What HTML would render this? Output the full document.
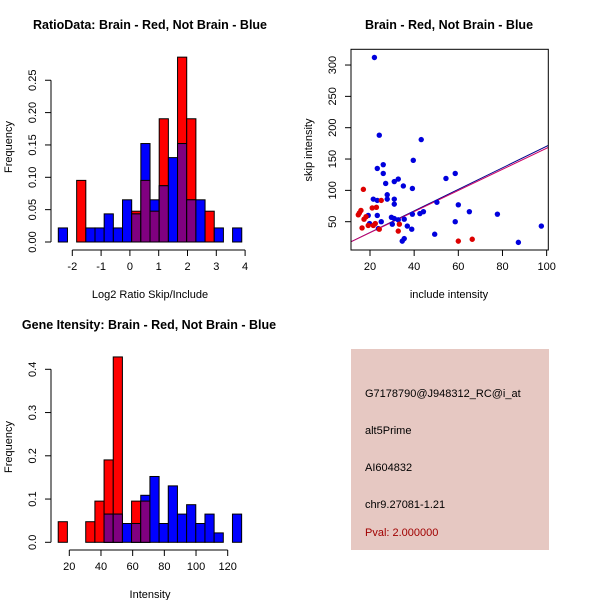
<!DOCTYPE html>
<html><head><meta charset="utf-8"><style>
body{margin:0;background:#fff}
svg{display:block;font-family:"Liberation Sans",sans-serif}
</style></head><body>
<svg id="c" width="600" height="600" viewBox="0 0 600 600">
<rect width="600" height="600" fill="#fff"/>
</svg>
<script>
// Histogram 1: RatioData
const ratioBreakStart = -2.486;
const ratioBinWidth = 0.3185;
const ratioRed = [0,0,2,0,0,0,0,0,1,2,1,4,0,6,4,0,1,0,0,0];
const ratioBlue = [1,0,0,1,1,2,1,3,2,7,3,4,6,7,3,3,0,1,0,1];
const ratioRedN = 21, ratioBlueN = 46;
const ratioXTicks = [-2,-1,0,1,2,3,4];
const ratioYTicks = [0,0.05,0.10,0.15,0.20,0.25];
const ratioYLabels = ["0.00","0.05","0.10","0.15","0.20","0.25"];
// Histogram 2: Gene intensity
const geneBreakStart = 13;
const geneBinWidth = 5.79;
const geneRed = [1,0,0,1,2,4,9,0,2,2,0,0,0,0,0,0,0,0,0,0];
const geneBlue = [0,0,0,0,0,3,3,2,2,5,7,2,6,3,4,2,3,1,0,3];
const geneXTicks = [20,40,60,80,100,120];
const geneYTicks = [0,0.1,0.2,0.3,0.4];
const geneYLabels = ["0.0","0.1","0.2","0.3","0.4"];
// Scatter
const blueX = [22,24.2,43.2,39.6,26,23.3,26,58.6,54.4,32.8,31,27.1,35.1,39.2,27.8,21.5,23.3,27.8,31,31,50.3,60,65,44.2,42.6,39.2,77.7,19.2,23.3,29.7,31,32.8,35.5,25.1,58.6,19.8,30.1,36.9,97.6,38.9,49.3,35.5,34.6,87.2,23.8];
const blueY = [312,188,181,148,141,135,127,127,119,118,114,111,107,103,93,86,84,86,86,78,81,77,66,66,63,62,62,60,60,57,55,53,54,50,50,47,46,43,43,38,30,23,19,17,39];
const redX = [17,15.9,14.7,15.2,18.2,17.3,16.4,21,22.9,25.1,19.2,21.5,22.4,24.2,32.8,33.3,60,66.3];
const redY = [101.6,68,61,64,58,54,40,72,73,84,44,44,47,38,35,46,19,22];
const fitBlue = [-1.6,1.72];
const fitRed = [-1.2,1.685];
const scatXTicks = [20,40,60,80,100];
const scatYTicks = [50,100,150,200,250,300];

const svg = document.getElementById('c');
const NS = 'http://www.w3.org/2000/svg';
function mk(tag, at, parent){const e=document.createElementNS(NS,tag);for(const k in at)e.setAttribute(k,at[k]);(parent||svg).appendChild(e);return e;}
function txt(s, at, parent){const e=mk('text',at,parent);e.textContent=s;return e;}

function hist(g, cfg){
  const xs=v=>cfg.x0+(v-cfg.d0)*cfg.xk, ys=v=>cfg.y0-v*cfg.yk;
  const n=cfg.red.length;
  for(let i=0;i<n;i++){
    const a=cfg.start+i*cfg.bw,b=a+cfg.bw;
    const r=cfg.red[i]/cfg.rn, bl=cfg.blue[i]/cfg.bn, m=Math.min(r,bl);
    const x=xs(a), w=xs(b)-xs(a);
    if(r>0){const e=mk('rect',{x:x,y:ys(r),width:w,height:ys(0)-ys(r),fill:'#ff0000',stroke:'#000','stroke-width':1},g);
      }
    if(bl>0){const e=mk('rect',{x:x,y:ys(bl),width:w,height:ys(0)-ys(bl),fill:'#0000ff',stroke:'#000','stroke-width':1},g);
      }
    if(m>0){const e=mk('rect',{x:x,y:ys(m),width:w,height:ys(0)-ys(m),fill:'#800080',stroke:'#000','stroke-width':1},g);
      }
  }
  const yt=cfg.yticks;
  mk('line',{x1:cfg.yax,y1:ys(yt[0]),x2:cfg.yax,y2:ys(yt[yt.length-1]),stroke:'#000'},g);
  yt.forEach((v,i)=>{mk('line',{x1:cfg.yax-6,y1:ys(v),x2:cfg.yax,y2:ys(v),stroke:'#000'},g);
    const t=txt(cfg.ylabels[i],{x:0,y:0,'font-size':11,'text-anchor':'middle',transform:`translate(${cfg.yax-15},${ys(v)}) rotate(-90)`},g);
    });
  const xt=cfg.xticks;
  mk('line',{x1:xs(xt[0]),y1:cfg.xay,x2:xs(xt[xt.length-1]),y2:cfg.xay,stroke:'#000'},g);
  xt.forEach(v=>{mk('line',{x1:xs(v),y1:cfg.xay,x2:xs(v),y2:cfg.xay+6,stroke:'#000'},g);
    const t=txt(String(v),{x:xs(v),y:cfg.xay+20,'font-size':11,'text-anchor':'middle'},g);
    });
}

const g1=mk('g',{});
hist(g1,{x0:72.3,d0:-2,xk:28.8,y0:242,yk:647,start:ratioBreakStart,bw:ratioBinWidth,red:ratioRed,blue:ratioBlue,rn:ratioRedN,bn:ratioBlueN,yticks:ratioYTicks,ylabels:ratioYLabels,xticks:ratioXTicks,yax:51,xay:250});
const g2=mk('g',{});
hist(g2,{x0:69.3,d0:20,xk:1.584,y0:542.3,yk:432.5,start:geneBreakStart,bw:geneBinWidth,red:geneRed,blue:geneBlue,rn:21,bn:46,yticks:geneYTicks,ylabels:geneYLabels,xticks:geneXTicks,yax:51,xay:550});

const g3=mk('g',{});
const sx=v=>370+(v-20)*2.208, sy=v=>221.7-(v-50)*0.6267;
const clip=mk('clipPath',{id:'sc'},g3);mk('rect',{x:351,y:49,width:197,height:201},clip);
[[fitBlue,'#00008b'],[fitRed,'#cc0066']].forEach(([f,c])=>{const l=mk('line',{x1:sx(0),y1:sy(f[0]),x2:sx(110),y2:sy(f[0]+f[1]*110),stroke:c,'clip-path':'url(#sc)'},g3);
  });
blueX.forEach((v,i)=>{const c=mk('circle',{cx:sx(v),cy:sy(blueY[i]),r:2.7,fill:'#0000dd'},g3);
  });
redX.forEach((v,i)=>{const c=mk('circle',{cx:sx(v),cy:sy(redY[i]),r:2.7,fill:'#dd0000'},g3);
  });
mk('rect',{x:351,y:49.3,width:197.3,height:200.7,fill:'none',stroke:'#000'},g3);
scatXTicks.forEach(v=>{mk('line',{x1:sx(v),y1:250,x2:sx(v),y2:256,stroke:'#000'},g3);
  const t=txt(v,{x:sx(v),y:270,'font-size':11,'text-anchor':'middle'},g3);});
scatYTicks.forEach(v=>{mk('line',{x1:345,y1:sy(v),x2:351,y2:sy(v),stroke:'#000'},g3);
  const t=txt(v,{x:0,y:0,'font-size':11,'text-anchor':'middle',transform:`translate(336,${sy(v)}) rotate(-90)`},g3);});
</script>
<div style="position:absolute;left:0;top:0;width:600px;height:600px;pointer-events:none">
<svg width="600" height="600" style="font-family:'Liberation Sans',sans-serif">
<text x="150" y="29" font-size="12.5" font-weight="bold" text-anchor="middle">RatioData: Brain - Red, Not Brain - Blue</text>
<text x="449" y="29" font-size="12.5" font-weight="bold" text-anchor="middle">Brain - Red, Not Brain - Blue</text>
<text x="149" y="329" font-size="12.5" font-weight="bold" text-anchor="middle">Gene Itensity: Brain - Red, Not Brain - Blue</text>
<text x="150" y="298" font-size="11" text-anchor="middle">Log2 Ratio Skip/Include</text>
<text font-size="11" text-anchor="middle" transform="translate(12,147) rotate(-90)">Frequency</text>
<text x="150" y="598" font-size="11" text-anchor="middle">Intensity</text>
<text font-size="11" text-anchor="middle" transform="translate(12,447) rotate(-90)">Frequency</text>
<text x="449" y="298" font-size="11" text-anchor="middle">include intensity</text>
<text font-size="11" text-anchor="middle" transform="translate(312,150) rotate(-90)">skip intensity</text>
<g>
<rect x="351" y="349" width="198" height="201" fill="#e6c8c2"/>
<text x="365" y="397" font-size="11">G7178790@J948312_RC@i_at</text>
<text x="365" y="434" font-size="11">alt5Prime</text>
<text x="365" y="471" font-size="11">AI604832</text>
<text x="365" y="508" font-size="11">chr9.27081-1.21</text>
<text x="365" y="536" font-size="11" fill="#a00000">Pval: 2.000000</text>
</g>
</svg></div>
</body></html>
